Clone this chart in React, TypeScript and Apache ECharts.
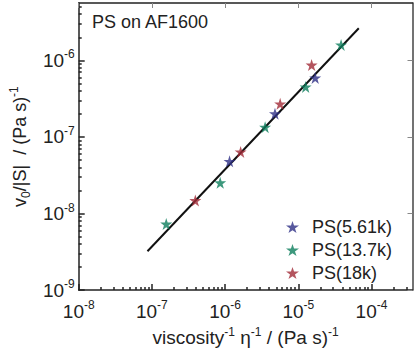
import React, { useEffect, useRef } from "react";
import * as echarts from "echarts";

// Data (raw values, plotted on log10 scales)
const ps561kX = [1.15e-6, 4.8e-6, 1.7e-5];
const ps561kY = [4.8e-8, 2.01e-7, 5.89e-7];
const ps137kX = [1.57e-7, 8.57e-7, 3.52e-6, 1.26e-5, 3.84e-5];
const ps137kY = [7.3e-9, 2.52e-8, 1.34e-7, 4.49e-7, 1.59e-6];
const ps18kX = [3.92e-7, 1.63e-6, 5.65e-6, 1.52e-5];
const ps18kY = [1.48e-8, 6.37e-8, 2.7e-7, 8.69e-7];
const fitX = [8.7e-8, 6.7e-5];
const fitY = [3.22e-9, 2.62e-6];

const seriesNames = ["PS(5.61k)", "PS(13.7k)", "PS(18k)"];
const xMajorExps = [-8, -7, -6, -5, -4];
const yMajorExps = [-9, -8, -7, -6];
const xRange = [1e-8, 3.63e-4];
const yRange = [1e-9, 5.6e-6];
const minorMultipliers = [2, 3, 4, 5, 6, 7, 8, 9];

const colors = ["#2e2f86", "#0d7e5c", "#a12b37"];
const STAR =
  "path://M50,0 L61.8,35.4 L100,35.4 L69.1,57.3 L80.9,92.7 L50,70.8 L19.1,92.7 L30.9,57.3 L0,35.4 L38.2,35.4 Z";
const FONT = "'Liberation Sans', Arial, sans-serif";

const lg = (v: number) => Math.log10(v);
const pairs = (xs: number[], ys: number[]) => xs.map((x, i) => [lg(x), lg(ys[i])]);
const minorTicks = (range: number[]) => {
  const out: number[] = [];
  const lo = Math.floor(lg(range[0]));
  const hi = Math.ceil(lg(range[1]));
  for (let e = lo; e <= hi; e++) {
    for (const m of minorMultipliers) {
      const v = m * Math.pow(10, e);
      if (v > range[0] && v < range[1]) out.push(lg(v));
    }
  }
  return out;
};

export default function App() {
  const ref = useRef<HTMLDivElement>(null);
  useEffect(() => {
    if (!ref.current) return;
    const chart = echarts.init(ref.current, undefined, { renderer: "svg" });
    const xMin = lg(xRange[0]);
    const xMax = lg(xRange[1]);
    const yMin = lg(yRange[0]);
    const yMax = lg(yRange[1]);
    const lineStyle = { color: "#222", width: 1.5 };
    const labelRich = {
      b: { fontSize: 19, fontFamily: FONT, color: "#222", lineHeight: 24 },
      s: { fontSize: 12, fontFamily: FONT, color: "#222", verticalAlign: "top" as const, lineHeight: 24, padding: [0, 0, 6, 0] },
    };
    const fmt = (v: number) => `{b|10}{s|${Math.round(v)}}`;
    const mkNameRich = (fs: number) => ({
      a: { fontSize: fs, fontFamily: FONT, color: "#222", lineHeight: 24 },
      sup: { fontSize: 12, fontFamily: FONT, color: "#222", verticalAlign: "top" as const, lineHeight: 24, padding: [0, 0, 8, 0] },
      sub: { fontSize: 12, fontFamily: FONT, color: "#222", verticalAlign: "bottom" as const, lineHeight: 24, padding: [6, 0, 0, 0] },
    });
    const baseAxis = (pos: string, min: number, max: number) => ({
      type: "value" as const,
      position: pos,
      min,
      max,
      splitLine: { show: false },
      axisLine: { show: true, onZero: false, lineStyle },
    });
    const xMinor = minorTicks(xRange);
    const yMinor = minorTicks(yRange);

    chart.setOption({
      animation: false,
      grid: { left: 73, right: 2.5, top: 3, bottom: 54, containLabel: false },
      title: {
        text: "PS on AF1600",
        left: 87,
        top: 8,
        textStyle: { fontSize: 18, fontWeight: "normal", fontFamily: FONT, color: "#222" },
      },
      legend: {
        data: seriesNames,
        orient: "vertical",
        left: 281,
        top: 213,
        itemGap: 5,
        itemWidth: 13,
        itemHeight: 13,
        icon: STAR,
        textStyle: { fontSize: 18, fontFamily: FONT, color: "#222", padding: [0, 0, 0, 8] },
      },
      xAxis: [
        {
          ...baseAxis("bottom", xMin, xMax),
          axisTick: { show: true, inside: true, length: 6, lineStyle, customValues: xMajorExps },
          axisLabel: { show: true, margin: 9, customValues: xMajorExps, formatter: fmt, rich: labelRich },
          name: "{a|viscosity}{sup|-1}{a| η}{sup|-1}{a| / (Pa s)}{sup|-1}",
          nameLocation: "middle",
          nameGap: 28,
          nameTextStyle: { rich: mkNameRich(19) },
        },
        {
          ...baseAxis("bottom", xMin, xMax),
          axisLine: { show: false },
          axisTick: { show: true, inside: true, length: 3, lineStyle, customValues: xMinor },
          axisLabel: { show: false },
        },
        {
          ...baseAxis("top", xMin, xMax),
          axisTick: { show: true, inside: true, length: 5, lineStyle: { color: "#888", width: 1 }, customValues: xMajorExps },
          axisLabel: { show: false },
        },
      ],
      yAxis: [
        {
          ...baseAxis("left", yMin, yMax),
          axisTick: { show: true, inside: true, length: 6, lineStyle, customValues: yMajorExps },
          axisLabel: { show: true, margin: 4, customValues: yMajorExps, formatter: fmt, rich: labelRich },
          name: "{a|v}{sub|0}{a|/|S|  / (Pa s)}{sup|-1}",
          nameLocation: "middle",
          nameRotate: 90,
          nameGap: 43,
          nameTextStyle: { rich: mkNameRich(18) },
        },
        {
          ...baseAxis("left", yMin, yMax),
          axisLine: { show: false },
          axisTick: { show: true, inside: true, length: 3, lineStyle, customValues: yMinor },
          axisLabel: { show: false },
        },
        {
          ...baseAxis("right", yMin, yMax),
          axisLine: { show: true, onZero: false, lineStyle: { color: "#444", width: 1.5 } },
          axisTick: { show: true, inside: true, length: 5, lineStyle: { color: "#888", width: 1 }, customValues: yMajorExps },
          axisLabel: { show: false },
        },
      ],
      series: [
        {
          name: "fit",
          type: "line",
          data: pairs(fitX, fitY),
          showSymbol: false,
          symbol: "none",
          lineStyle: { color: "#111", width: 2 },
          z: 1,
        },
        ...[
          [ps561kX, ps561kY],
          [ps137kX, ps137kY],
          [ps18kX, ps18kY],
        ].map(([xs, ys], i) => ({
          name: seriesNames[i],
          type: "scatter",
          data: pairs(xs, ys),
          symbol: STAR,
          symbolSize: 12,
          itemStyle: { color: colors[i] },
          z: 3,
        })),
      ],
    });
    return () => chart.dispose();
  }, []);
  return (
    <div
      ref={ref}
      style={{ position: "fixed", left: 0, top: 0, width: 415, height: 352, background: "#fff" }}
    />
  );
}
